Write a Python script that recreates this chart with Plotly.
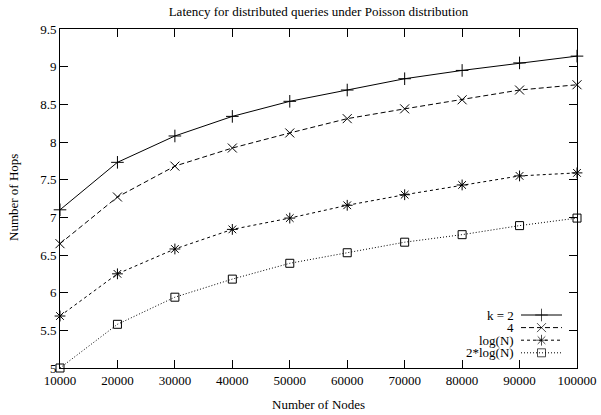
import plotly.graph_objects as go

nodes = [10000, 20000, 30000, 40000, 50000, 60000, 70000, 80000, 90000, 100000]
k2 = [7.10, 7.73, 8.08, 8.34, 8.54, 8.69, 8.84, 8.95, 9.05, 9.14]
k4 = [6.65, 7.27, 7.68, 7.92, 8.12, 8.31, 8.44, 8.56, 8.69, 8.76]
logn = [5.69, 6.25, 6.58, 6.84, 6.99, 7.16, 7.30, 7.43, 7.55, 7.59]
two_logn = [5.00, 5.58, 5.94, 6.18, 6.39, 6.53, 6.67, 6.77, 6.89, 6.99]

series_names = ["k = 2", "4", "log(N)", "2*log(N)"]
series_vals = [k2, k4, logn, two_logn]
dashes = ["solid", "5px,3px", "3px,3px", "1px,2px"]
symbols = ["cross-thin-open", "x-thin-open", "asterisk-open", "square-open"]
sizes = [9, 9, 9, 8]

yticks = [5, 5.5, 6, 6.5, 7, 7.5, 8, 8.5, 9, 9.5]
ytick_text = ["5", "5.5", "6", "6.5", "7", "7.5", "8", "8.5", "9", "9.5"]

FONT = "Liberation Serif, Times New Roman, Times, serif"
FS = 13
fig = go.Figure()

for name, vals, d, s, sz in zip(series_names, series_vals, dashes, symbols, sizes):
    fig.add_trace(go.Scatter(
        x=nodes, y=vals, mode="lines+markers", name=name,
        line=dict(color="black", width=1, dash=d),
        marker=dict(symbol=s, size=sz, color="black", line=dict(color="black", width=1)),
        cliponaxis=False, showlegend=False,
    ))

# custom gnuplot-style legend (text right, sample to the right)
L, R, T, B = 60, 577, 29, 368
W, H = R - L, B - T
rows_px = [315, 327.6, 340.2, 352.8]
ytop = (B - 305) / H
for i, (name, d, s, sz) in enumerate(zip(series_names, dashes, symbols, sizes)):
    yp = (B - rows_px[i]) / H
    fig.add_trace(go.Scatter(
        x=[0, 0.5, 1], y=[yp / ytop, yp / ytop, yp / ytop], mode="lines+markers",
        line=dict(color="black", width=1, dash=d),
        marker=dict(symbol=s, size=[0, sz, 0], color="black", line=dict(color="black", width=1)),
        xaxis="x2", yaxis="y2", showlegend=False, cliponaxis=False, hoverinfo="skip",
    ))
    fig.add_annotation(x=(516 - L) / W, y=yp, xref="paper", yref="paper", text=name,
                       showarrow=False, xanchor="right", yanchor="middle",
                       font=dict(family=FONT, size=FS, color="black"))

fig.add_annotation(x=0.5, y=-(404 - B) / H, xref="paper", yref="paper", text="Number of Nodes",
                   showarrow=False, xanchor="center", yanchor="middle",
                   font=dict(family=FONT, size=FS, color="black"))
fig.add_annotation(x=(13 - L) / W, y=(B - 198) / H, xref="paper", yref="paper", text="Number of Hops",
                   showarrow=False, xanchor="center", yanchor="middle", textangle=-90,
                   font=dict(family=FONT, size=FS, color="black"))

axis_common = dict(showline=True, linecolor="black", linewidth=1, mirror="ticks",
                   ticks="inside", ticklen=8, tickcolor="black", tickwidth=1,
                   showgrid=False, zeroline=False, automargin=False,
                   tickfont=dict(family=FONT, size=FS, color="black"))

fig.update_layout(
    width=601, height=415,
    margin=dict(l=L, r=601 - R, t=T, b=415 - B),
    paper_bgcolor="white", plot_bgcolor="rgba(0,0,0,0)",
    title=dict(text="Latency for distributed queries under Poisson distribution",
               x=0.53, xanchor="center", y=1 - 11 / 415, yanchor="middle",
               font=dict(family=FONT, size=FS, color="black")),
    xaxis=dict(domain=[0, 1], range=[10000, 100000], tickvals=nodes,
               ticktext=[str(n) for n in nodes], **axis_common),
    yaxis=dict(domain=[0, 1], range=[5, 9.5], tickvals=yticks, ticktext=ytick_text, **axis_common),
    xaxis2=dict(domain=[(521 - L) / W, (562 - L) / W], range=[0, 1], anchor="y2", visible=False),
    yaxis2=dict(domain=[0, ytop], range=[0, 1], anchor="x2", visible=False),
    showlegend=False,
)

fig.write_html("out.html")
